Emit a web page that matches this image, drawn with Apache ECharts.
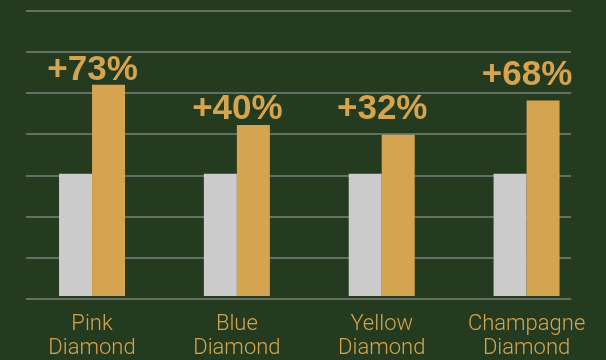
<!DOCTYPE html>
<html>
<head>
<meta charset="utf-8">
<script src="https://cdn.jsdelivr.net/npm/echarts@6/dist/echarts.min.js"></script>
<style>
  html, body { margin: 0; padding: 0; background: #243b20; }
  #view1 { width: 606px; height: 360px; }
</style>
</head>
<body>
<div id="view1"></div>
<script>
var categories = ["Pink\nDiamond", "Blue\nDiamond", "Yellow\nDiamond", "Champagne\nDiamond"];
var before = [100, 100, 100, 100];
var after = [173, 140, 132, 160];
var growth = ["+73%", "+40%", "+32%", "+68%"];

// gap between bar top and its label baseline, read per bar
var labelGap = [4, 5.5, 15, 14.5];

var yMax = 700 / 3;
var yStep = 100 / 3;

var option = {
  backgroundColor: "#243b20",
  animation: false,
  grid: [{
    // grid that only carries the split lines
    left: 26,
    right: 35,
    top: 11,
    bottom: 61.5
  },
  {
    left: 19.6,
    right: 7,
    top: 11,
    bottom: 61.5
  }
  ],
  xAxis: [{
    type: "category",
    data: categories,
    show: false
  },
  {
    gridIndex: 1,
    type: "category",
    data: categories,
    axisLine: { show: false },
    axisTick: { show: false },
    axisLabel: {
      interval: 0,
      margin: 16,
      color: "#d4a450",
      fontFamily: "Roboto",
      fontWeight: 300,
      fontSize: 22,
      lineHeight: 24
    }
  }
  ],
  yAxis: [{
    type: "value",
    min: 0,
    max: yMax,
    interval: yStep,
    axisLine: { show: false },
    axisTick: { show: false },
    axisLabel: { show: false },
    splitLine: {
      lineStyle: { color: "#7d827a", width: 1.5 }
    }
  },
  {
    gridIndex: 1,
    type: "value",
    min: 0,
    max: yMax,
    interval: yStep,
    show: false
  }
  ],
  series: [
    {
      type: "bar",
      xAxisIndex: 1,
      yAxisIndex: 1,
      data: before,
      barWidth: 33,
      barGap: "0%",
      itemStyle: { color: "#cacbca" }
    }, {
      type: "bar",
      xAxisIndex: 1,
      yAxisIndex: 1,
      barWidth: 33,
      data: after.map(function (v, i) {
        return {
          value: v,
          label: { distance: labelGap[i] }
        };
      }),
      itemStyle: { color: "#d4a450" },
      label: {
        show: true,
        position: "top",
        offset: [-16, 7],
        color: "#d4a450",
        fontFamily: "Liberation Sans",
        fontWeight: "bold",
        fontSize: 35,
        formatter: function (p) { return growth[p.dataIndex]; }
      }
    }
  ]
};

echarts.init(document.getElementById("view1")).setOption(option);
</script>
</body>
</html>
